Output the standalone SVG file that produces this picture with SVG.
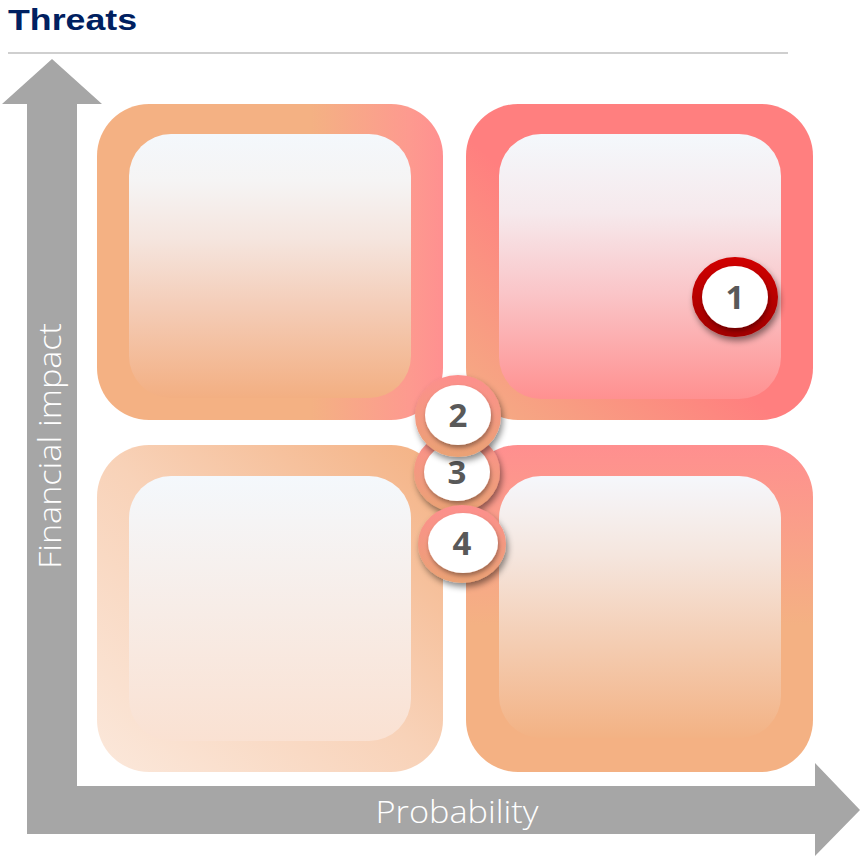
<svg xmlns="http://www.w3.org/2000/svg" width="864" height="856" viewBox="0 0 864 856">
<style>
.title{font-family:"Liberation Sans","Open Sans",sans-serif;font-weight:700;font-size:30px;fill:#002060}
.axis{font-family:"Open Sans","Liberation Sans",sans-serif;font-weight:300;font-size:32px;fill:#ffffff}
.num{font-family:"Open Sans","Liberation Sans",sans-serif;font-weight:700;font-size:33px;fill:#595959;text-anchor:middle}
</style>
<defs>
<linearGradient id="tlo" x1="0" y1="0" x2="1" y2="0">
<stop offset="0" stop-color="#F4B183"/><stop offset="0.62" stop-color="#F4B183"/><stop offset="0.9" stop-color="#FD9A8F"/><stop offset="1" stop-color="#FF9090"/>
</linearGradient>
<linearGradient id="tli" x1="0" y1="0" x2="0" y2="1">
<stop offset="0" stop-color="#F4F8FC"/><stop offset="0.18" stop-color="#F5F4F4"/><stop offset="0.4" stop-color="#F5E5DE"/><stop offset="0.65" stop-color="#F4CDB8"/><stop offset="1" stop-color="#F3AF82"/>
</linearGradient>
<linearGradient id="tro" x1="0" y1="1" x2="0.45" y2="0.55">
<stop offset="0" stop-color="#F4AE84"/><stop offset="1" stop-color="#FF7F7F"/>
</linearGradient>
<linearGradient id="tri" x1="0" y1="0" x2="0" y2="1">
<stop offset="0" stop-color="#F4F8FC"/><stop offset="0.3" stop-color="#F6E9EC"/><stop offset="0.6" stop-color="#FAC5C8"/><stop offset="1" stop-color="#FF9090"/>
</linearGradient>
<linearGradient id="blo" x1="0" y1="1" x2="1" y2="0">
<stop offset="0" stop-color="#FBE8DB"/><stop offset="0.5" stop-color="#F8D2B8"/><stop offset="1" stop-color="#F4B183"/>
</linearGradient>
<linearGradient id="bli" x1="0" y1="0" x2="0" y2="1">
<stop offset="0" stop-color="#F4F8FC"/><stop offset="1" stop-color="#FAE1D2"/>
</linearGradient>
<linearGradient id="bro" x1="0" y1="0" x2="0" y2="1">
<stop offset="0" stop-color="#FF8F8F"/><stop offset="0.55" stop-color="#F4B183"/><stop offset="1" stop-color="#F4B183"/>
</linearGradient>
<linearGradient id="bri" x1="0" y1="0" x2="0" y2="1">
<stop offset="0" stop-color="#F5F7FC"/><stop offset="0.3" stop-color="#F5E6DE"/><stop offset="1" stop-color="#F3B284"/>
</linearGradient>
<linearGradient id="ringRed" x1="0" y1="0" x2="0" y2="1">
<stop offset="0" stop-color="#D00000"/><stop offset="1" stop-color="#A00000"/>
</linearGradient>
<linearGradient id="ringPeach" x1="0" y1="0" x2="0" y2="1">
<stop offset="0" stop-color="#FD8F8D"/><stop offset="1" stop-color="#EAA274"/>
</linearGradient>
<filter id="shadow" x="-30%" y="-30%" width="160%" height="170%">
<feDropShadow dx="2" dy="4" stdDeviation="3" flood-color="#000000" flood-opacity="0.45"/>
</filter>
<filter id="ishadow" x="-30%" y="-30%" width="160%" height="170%">
<feDropShadow dx="1" dy="3" stdDeviation="2" flood-color="#000000" flood-opacity="0.35"/>
</filter>
</defs>

<g id="header">
<text class="title" x="8" y="30" textLength="129" lengthAdjust="spacingAndGlyphs">Threats</text>
<line x1="8" y1="53" x2="788" y2="53" stroke="#BFBFBF" stroke-width="1.5"/>
</g>

<g id="axes">
<polygon fill="#A6A6A6" points="52,59 102,104 77,104 77,786 815,786 815,763 860,810 815,856 815,834 27,834 27,104 2,104"/>
<text class="axis" x="457" y="823" text-anchor="middle" textLength="163" lengthAdjust="spacingAndGlyphs">Probability</text>
<text class="axis" transform="translate(61,446) rotate(-90)" x="0" y="0" text-anchor="middle" textLength="246" lengthAdjust="spacingAndGlyphs">Financial impact</text>
</g>

<g id="quadrant-top-left">
<rect x="97" y="104" width="346" height="316" rx="52" fill="url(#tlo)"/>
<rect x="129" y="134" width="282" height="264" rx="42" fill="url(#tli)"/>
</g>
<g id="quadrant-top-right">
<rect x="466" y="104" width="347" height="316" rx="52" fill="url(#tro)"/>
<rect x="499" y="134" width="282" height="265" rx="42" fill="url(#tri)"/>
</g>
<g id="quadrant-bottom-left">
<rect x="97" y="445" width="346" height="327" rx="52" fill="url(#blo)"/>
<rect x="129" y="476" width="282" height="265" rx="42" fill="url(#bli)"/>
</g>
<g id="quadrant-bottom-right">
<rect x="466" y="445" width="347" height="327" rx="52" fill="url(#bro)"/>
<rect x="499" y="476" width="282" height="262" rx="42" fill="url(#bri)"/>
</g>

<g id="badge-3">
<ellipse cx="457" cy="472" rx="43" ry="40" fill="url(#ringPeach)" filter="url(#shadow)"/>
<ellipse cx="457" cy="472" rx="33" ry="29" fill="#FFFFFF" filter="url(#ishadow)"/>
<text class="num" x="457" y="484">3</text>
</g>
<g id="badge-2">
<ellipse cx="458" cy="416" rx="43" ry="41" fill="url(#ringPeach)" filter="url(#shadow)"/>
<ellipse cx="458" cy="415" rx="33" ry="30" fill="#FFFFFF" filter="url(#ishadow)"/>
<text class="num" x="458" y="427">2</text>
</g>
<g id="badge-4">
<ellipse cx="462" cy="544" rx="44" ry="39" fill="url(#ringPeach)" filter="url(#shadow)"/>
<ellipse cx="463" cy="543" rx="35" ry="30" fill="#FFFFFF" filter="url(#ishadow)"/>
<text class="num" x="462" y="555">4</text>
</g>
<g id="badge-1">
<ellipse cx="735" cy="297" rx="43" ry="40" fill="url(#ringRed)" filter="url(#shadow)"/>
<ellipse cx="735" cy="297" rx="33" ry="31" fill="#FFFFFF" filter="url(#ishadow)"/>
<text class="num" x="735" y="309">1</text>
</g>
</svg>
